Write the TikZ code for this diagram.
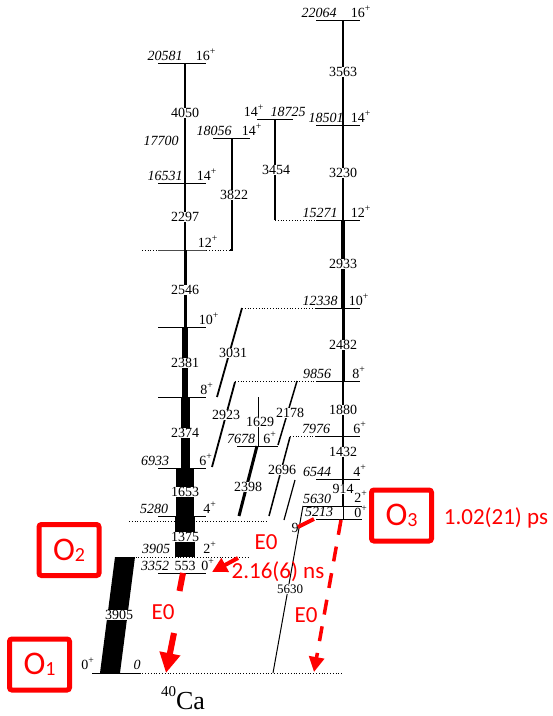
\documentclass[tikz,border=0pt]{standalone}
\usepackage{fontspec}
\setmainfont{Liberation Serif}
\newfontfamily\redfont{Carlito}
\usetikzlibrary{arrows.meta}
\begin{document}
\begin{tikzpicture}[x=1pt,y=-1pt,
 lev/.style={line width=0.9pt},
 dotl/.style={line width=0.8pt, dotted},
 trw/.style={line width=#1},
 en/.style={anchor=base, inner sep=0pt, font=\fontsize{14}{14}\selectfont\itshape},
 sp/.style={anchor=base, inner sep=0pt, font=\fontsize{14}{14}\selectfont},
 tl/.style={fill=white, inner sep=0.6pt, font=\fontsize{14}{14}\selectfont},
 rtxt/.style={anchor=base, inner sep=0pt, text=red, font=\redfont\fontsize{23}{23}\selectfont},
 obox/.style={draw=red, line width=5pt, rounded corners=2.5pt, minimum width=60pt, minimum height=51pt, inner sep=0pt, text=red, font=\redfont\fontsize{33}{33}\selectfont},
 rarr/.style={red, line width=#1},
]
\useasboundingbox (0,0) rectangle (553,716);

% ---------------- right column levels
\draw[lev] (316,20) -- (360,20);
\node[en] (e22064) at (319,17) {22064};
\node[sp] (s22064) at (361,17) {16\textsuperscript{+}};
\draw[lev] (316,125) -- (360,125);
\node[en] (e18501) at (326,122) {18501};
\node[sp] (s18501) at (361,122) {14\textsuperscript{+}};
\draw[lev] (316,220) -- (360,220);
\draw[dotl] (275,220) -- (316,220);
\node[en] (e15271) at (320,217) {15271};
\node[sp] (s15271) at (361,217) {12\textsuperscript{+}};
\draw[lev] (316,308) -- (360,308);
\draw[dotl] (242,308) -- (316,308);
\node[en] (e12338) at (320,305) {12338};
\node[sp] (s12338) at (359,305) {10\textsuperscript{+}};
\draw[lev] (316,381) -- (360,381);
\draw[dotl] (235,381) -- (316,381);
\node[en] (e9856) at (317,378) {9856};
\node[sp] (s9856) at (359,378) {8\textsuperscript{+}};
\draw[lev] (316,436) -- (360,436);
\draw[dotl] (290,436) -- (316,436);
\node[en] (e7976) at (316,433) {7976};
\node[sp] (s7976) at (360,433) {6\textsuperscript{+}};
\draw[lev] (316,479) -- (360,479);
\node[en] (e6544) at (317,476) {6544};
\node[sp] (s6544) at (360,476) {4\textsuperscript{+}};
\draw[lev] (303,506) -- (362,506);
\node[en] (e5630) at (317,503) {5630};
\node[sp] (s5630) at (361,502) {2\textsuperscript{+}};
\draw[lev] (316,519) -- (362,519);
\node[en] (e5213) at (319,516) {5213};
\node[sp] (s5213) at (361,517) {0\textsuperscript{+}};

% ---------------- left column levels
\draw[lev] (158,63) -- (206,63);
\node[en] (e20581) at (165,60) {20581};
\node[sp] (s20581) at (206,60) {16\textsuperscript{+}};
\node[en] (e17700) at (161,145) {17700};
\draw[lev] (158,183) -- (206,183);
\node[en] (e16531) at (165,180) {16531};
\node[sp] (s16531) at (207,180) {14\textsuperscript{+}};
\draw[dotl] (142,250) -- (232,250);
\draw[line width=0.7pt, black!70] (158,250) -- (206,250);
\node[sp] (s12l) at (208,247) {12\textsuperscript{+}};
\draw[lev] (158,327) -- (206,327);
\node[sp] (s10l) at (209,324) {10\textsuperscript{+}};
\draw[lev] (158,397) -- (206,397);
\node[sp] (s8l) at (207,394) {8\textsuperscript{+}};
\draw[lev] (158,468) -- (206,468);
\node[en] (e6933) at (155,465) {6933};
\node[sp] (s6933) at (206,465) {6\textsuperscript{+}};
\draw[lev] (158,516) -- (206,516);
\draw[dotl] (129,521) -- (268,521);
\node[en] (e5280) at (154,513) {5280};
\node[sp] (s5280) at (210,513) {4\textsuperscript{+}};
\draw[dotl] (130,557) -- (248,557);
\node[en] (e3905) at (156,553) {3905};
\node[sp] (s3905) at (210,553) {2\textsuperscript{+}};
\draw[lev] (158,573) -- (206,573);
\node[en] (e3352) at (155,570) {3352};
\node[sp] (s3352) at (208,570) {0\textsuperscript{+}};
% ground
\draw[dotl] (92,673) -- (342,673);
\draw[lev] (92,673) -- (140,673);
\node[sp] (s0) at (88,669) {0\textsuperscript{+}};
\node[en] (e0) at (137,669) {0};

% side levels
\draw[lev] (213,138) -- (250,138);
\node[en] (e18056) at (214,135) {18056};
\node[sp] (s18056) at (252,135) {14\textsuperscript{+}};
\draw[lev] (257,119) -- (293,119);
\node[sp] (s18725) at (254,116) {14\textsuperscript{+}};
\node[en] (e18725) at (288,116) {18725};
\draw[lev] (237,446) -- (278,446);
\node[en] (e7678) at (241,443) {7678};
\node[sp] (s7678) at (270,443) {6\textsuperscript{+}};

% ---------------- transitions, right column
\draw[trw=1.1pt] (343,20) -- (343,125);
\draw[trw=1.6pt] (343,125) -- (343,220);
\draw[trw=4pt] (343,220) -- (343,308);
\draw[trw=3pt] (343,308) -- (343,381);
\draw[trw=2pt] (343,381) -- (343,436);
\draw[trw=2pt] (343,436) -- (343,479);
\draw[trw=1.2pt] (343,479) -- (343,506);
\draw[trw=0.7pt] (343,506) -- (343,519);
% left column
\draw[trw=1.2pt] (185,63) -- (185,183);
\draw[trw=1.8pt] (185,183) -- (185,250);
\draw[trw=3pt] (185,250) -- (185,327);
\draw[trw=6pt] (185,327) -- (185,397);
\draw[trw=9pt] (185,397) -- (185,468);
\draw[trw=18pt] (185,468) -- (185,516);
\draw[trw=20pt] (185,516) -- (185,557);
% side
\draw[trw=1.2pt] (232,138) -- (232,250) -- (230,250);
\draw[trw=2pt] (275,119) -- (275,220);
% diagonals
\draw[trw=1.8pt] (242,308) -- (217,397);
\draw[trw=1.8pt] (235,382) -- (212,467);
\draw[trw=0.8pt] (258,397) -- (258,446);
\draw[trw=1.5pt] (297,381) -- (278,445);
\draw[trw=3pt] (257,446) -- (239,516);
\draw[trw=1.5pt] (290,437) -- (269,516);
\draw[trw=1.2pt] (295,480) -- (284,520);
\draw[trw=1pt] (303,506) -- (273,673);
\fill (115,557) -- (135,557) -- (120,673) -- (100,673) -- cycle;

% transition labels
\node[tl] (t3563) at (343,72) {3563};
\node[tl] (t3230) at (343,173) {3230};
\node[tl] (t2933) at (343,264) {2933};
\node[tl] (t2482) at (343,345) {2482};
\node[tl] (t1880) at (343,410) {1880};
\node[tl] (t1432) at (343,452) {1432};
\node[tl] (t914) at (343,489) {914};
\node[tl] (t4050) at (185,113) {4050};
\node[tl] (t2297) at (185,217) {2297};
\node[tl] (t2546) at (185,290) {2546};
\node[tl] (t2381) at (185,363) {2381};
\node[tl] (t2374) at (185,433) {2374};
\node[tl] (t1653) at (185,492) {1653};
\node[tl] (t1375) at (185,537) {1375};
\node[sp] (t553) at (185,570) {553};
\node[tl] (t3822) at (234,195) {3822};
\node[tl] (t3454) at (276,170) {3454};
\node[tl] (t3031) at (233,353) {3031};
\node[tl] (t2923) at (226,415) {2923};
\node[tl] (t1629) at (260,422) {1629};
\node[tl] (t2178) at (290,413) {2178};
\node[tl] (t2398) at (248,487) {2398};
\node[tl] (t2696) at (282,470) {2696};
\node[tl,font=\fontsize{13}{13}\selectfont] (t5630) at (290,589) {5630};
\node[tl] (t3905) at (119,615) {3905};
\node[sp] (t9) at (295,532) {9};

% ---------------- red annotations
\draw[rarr=6pt] (183,573) -- (179.5,591);
\draw[rarr=6pt, -{Triangle[length=20pt,width=20pt]}] (174,633) -- (166,673);
\node[rtxt] (r1) at (163,619) {E0};
\draw[rarr=4pt, -{Triangle[length=15pt,width=15pt]}] (238,558) -- (212,572);
\node[rtxt] (r2) at (266,549) {E0};
\node[rtxt] (r3) at (278,578) {2.16(6) ns};
\draw[rarr=3.5pt, dash pattern=on 15pt off 12pt, -{Triangle[length=15pt,width=15pt]}] (341,520) -- (314,672);
\node[rtxt] (r4) at (306,622) {E0};
\draw[rarr=4pt] (298,527) -- (314,519);
\node[rtxt] (r5) at (496,524) {1.02(21) ps};

\node[obox] (o2) at (69,550) {O\raisebox{-1pt}{\fontsize{20}{20}\selectfont 2}};
\node[obox] (o1) at (39.5,664.5) {O\raisebox{-1pt}{\fontsize{20}{20}\selectfont 1}};
\node[obox] (o3) at (401.5,515.5) {O\raisebox{-1pt}{\fontsize{20}{20}\selectfont 3}};

\node[anchor=base, inner sep=0pt, font=\fontsize{26}{26}\selectfont] (ca) at (183,709) {\raisebox{13pt}{\fontsize{15}{15}\selectfont 40}Ca};
\end{tikzpicture}
\end{document}
